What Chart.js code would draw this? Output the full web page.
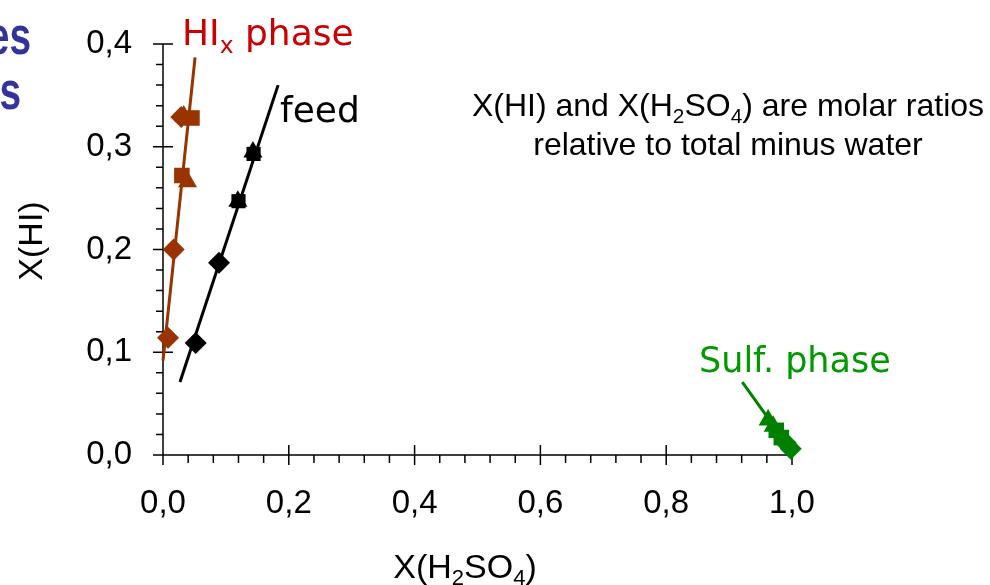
<!DOCTYPE html>
<html>
<head>
<meta charset="utf-8">
<script src="https://cdn.jsdelivr.net/npm/chart.js@4"></script>
<style>
  html, body { margin: 0; padding: 0; background: #fff; }
  #wrap { width: 990px; height: 585px; }
</style>
</head>
<body>
<div id="wrap"><canvas id="chart" width="990" height="585"></canvas></div>
<script>
// valores
var hiDiamonds  = [{x: 0.008, y: 0.114}, {x: 0.017, y: 0.200}, {x: 0.029, y: 0.329}];
var hiSquares   = [{x: 0.030, y: 0.272}, {x: 0.046, y: 0.328}];
var hiTriangles = [{x: 0.039, y: 0.266}, {x: 0.033, y: 0.330}];
var hiLine      = [{x: 0.000, y: 0.092}, {x: 0.051, y: 0.387}];

var feedDiamonds  = [{x: 0.052, y: 0.109}, {x: 0.089, y: 0.187}];
var feedSquares   = [{x: 0.120, y: 0.247}, {x: 0.144, y: 0.293}];
var feedTriangles = [{x: 0.119, y: 0.247}, {x: 0.143, y: 0.295}];
var feedLine      = [{x: 0.027, y: 0.071}, {x: 0.183, y: 0.360}];

var sulfTriangles = [{x: 0.962, y: 0.034}, {x: 0.970, y: 0.028}];
var sulfSquares   = [{x: 0.975, y: 0.024}, {x: 0.983, y: 0.017}];
var sulfDiamonds  = [{x: 0.990, y: 0.012}, {x: 0.998, y: 0.006}];
var sulfArrow     = [{x: 0.921, y: 0.071}, {x: 0.962, y: 0.036}];

var xTicks = [0, 0.2, 0.4, 0.6, 0.8, 1.0];
var yTicks = [0, 0.1, 0.2, 0.3, 0.4];

var BROWN = '#993300', GREEN = '#008000';
var sans = "'Liberation Sans', Arial, sans-serif";
var comic = "'Comic Sans MS', 'DejaVu Sans', sans-serif";

function pts(data, color, style, r, ord) {
    return { data: data, backgroundColor: color, borderColor: color, pointStyle: style,
             pointRadius: r, pointHoverRadius: r, borderWidth: 0, showLine: false,
             clip: false, order: ord };
}
function line(data, color, w) {
    return { data: data, borderColor: color, borderWidth: w, pointRadius: 0, showLine: true,
             clip: false, order: 5 };
}
function fmt(v) { return v.toFixed(1).replace('.', ','); }

// texto con subindices: [['texto', false], ['2', true], ...]
function drawRich(ctx, parts, x, y, size, family, color, align) {
    ctx.save();
    ctx.fillStyle = color;
    ctx.textBaseline = 'alphabetic';
    ctx.textAlign = 'left';
    var total = 0;
    parts.forEach(function (p) {
        ctx.font = (p[1] ? size * 0.65 : size) + 'px ' + family;
        total += ctx.measureText(p[0]).width;
    });
    var cx = align === 'center' ? x - total / 2 : x;
    parts.forEach(function (p) {
        ctx.font = (p[1] ? size * 0.65 : size) + 'px ' + family;
        ctx.fillText(p[0], cx, p[1] ? y + size * 0.22 : y);
        cx += ctx.measureText(p[0]).width;
    });
    ctx.restore();
}

var decor = {
    id: 'decor',
    beforeDatasetsDraw: function (chart) {
        var ctx = chart.ctx, xs = chart.scales.x, ys = chart.scales.y;
        var x0 = xs.getPixelForValue(0), x1 = xs.getPixelForValue(1);
        var y0 = ys.getPixelForValue(0), y1 = ys.getPixelForValue(0.4);
        ctx.save();
        ctx.strokeStyle = '#000';
        ctx.lineWidth = 1.5;
        ctx.beginPath();
        ctx.moveTo(x0, y1); ctx.lineTo(x0, y0); ctx.lineTo(x1, y0);
        // ticks eje y
        for (var i = 0; i <= 20; i++) {
            var py = ys.getPixelForValue(i * 0.02);
            if (i % 5 === 0) { ctx.moveTo(x0 - 10, py); ctx.lineTo(x0 + 10, py); }
            else { ctx.moveTo(x0 - 7, py); ctx.lineTo(x0, py); }
        }
        // ticks eje x
        for (var j = 0; j <= 25; j++) {
            var px = xs.getPixelForValue(j * 0.04);
            if (j % 5 === 0) { ctx.moveTo(px, y0 - 10); ctx.lineTo(px, y0 + 10); }
            else { ctx.moveTo(px, y0); ctx.lineTo(px, y0 + 8); }
        }
        ctx.stroke();
        ctx.restore();
    },
    afterDraw: function (chart) {
        var ctx = chart.ctx;
        // titulo cortado a la izquierda
        ctx.save();
        ctx.fillStyle = '#333399';
        ctx.font = 'bold 54px ' + sans;
        ctx.textAlign = 'right';
        ctx.scale(0.72, 1);
        ctx.fillText('es', 31 / 0.72, 54);
        ctx.fillText('s', 21 / 0.72, 109);
        ctx.restore();

        // titulo eje y
        ctx.save();
        ctx.translate(42, 241);
        ctx.rotate(-Math.PI / 2);
        drawRich(ctx, [['X(HI)', false]], 0, 0, 34, sans, '#000', 'center');
        ctx.restore();

        // titulo eje x
        drawRich(ctx, [['X(H', false], ['2', true], ['SO', false], ['4', true], [')', false]],
                 465, 578, 34, sans, '#000', 'center');

        // nota
        drawRich(ctx, [['X(HI) and X(H', false], ['2', true], ['SO', false], ['4', true],
                       [') are molar ratios', false]], 728, 116, 32, sans, '#000', 'center');
        drawRich(ctx, [['relative to total minus water', false]], 728, 155, 32, sans, '#000', 'center');

        // etiquetas de las fases
        drawRich(ctx, [['HI', false], ['x', true], [' phase', false]], 182, 45, 36, comic, '#cc0000', 'left');
        drawRich(ctx, [['feed', false]], 280, 122, 36, comic, '#000', 'left');
        drawRich(ctx, [['Sulf. phase', false]], 699, 372, 35, comic, '#009900', 'left');
    }
};

var ctx = document.getElementById('chart').getContext('2d');
new Chart(ctx, {
    type: 'scatter',
    data: {
        datasets: [
            pts(hiDiamonds, BROWN, 'rectRot', 11, 2),
            pts(hiSquares, BROWN, 'rect', 11, 2),
            pts(hiTriangles, BROWN, 'triangle', 11, 1),
            line(hiLine, BROWN, 3),
            pts(feedDiamonds, '#000', 'rectRot', 11, 2),
            pts(feedSquares, '#000', 'rect', 10, 2),
            pts(feedTriangles, '#000', 'triangle', 11, 1),
            line(feedLine, '#000', 3),
            pts(sulfTriangles, GREEN, 'triangle', 11, 1),
            pts(sulfSquares, GREEN, 'rect', 11, 2),
            pts(sulfDiamonds, GREEN, 'rectRot', 11, 2),
            line(sulfArrow, GREEN, 3)
        ]
    },
    options: {
        responsive: false,
        animation: false,
        layout: { padding: { left: 0, top: 44, right: 198, bottom: 0 } },
        plugins: { legend: { display: false }, tooltip: { enabled: false } },
        scales: {
            x: {
                type: 'linear', min: 0, max: 1,
                afterBuildTicks: function (s) { s.ticks = xTicks.map(function (v) { return { value: v }; }); },
                afterFit: function (s) { s.height = 130; },
                grid: { display: false }, border: { display: false },
                ticks: { callback: fmt, padding: 21, color: '#000', maxRotation: 0,
                         font: { family: sans, size: 33 } }
            },
            y: {
                type: 'linear', min: 0, max: 0.4,
                afterBuildTicks: function (s) { s.ticks = yTicks.map(function (v) { return { value: v }; }); },
                afterFit: function (s) { s.width = 163; },
                grid: { display: false }, border: { display: false },
                ticks: { callback: fmt, padding: 23, color: '#000',
                         font: { family: sans, size: 33 } }
            }
        }
    },
    plugins: [decor]
});
</script>
</body>
</html>
